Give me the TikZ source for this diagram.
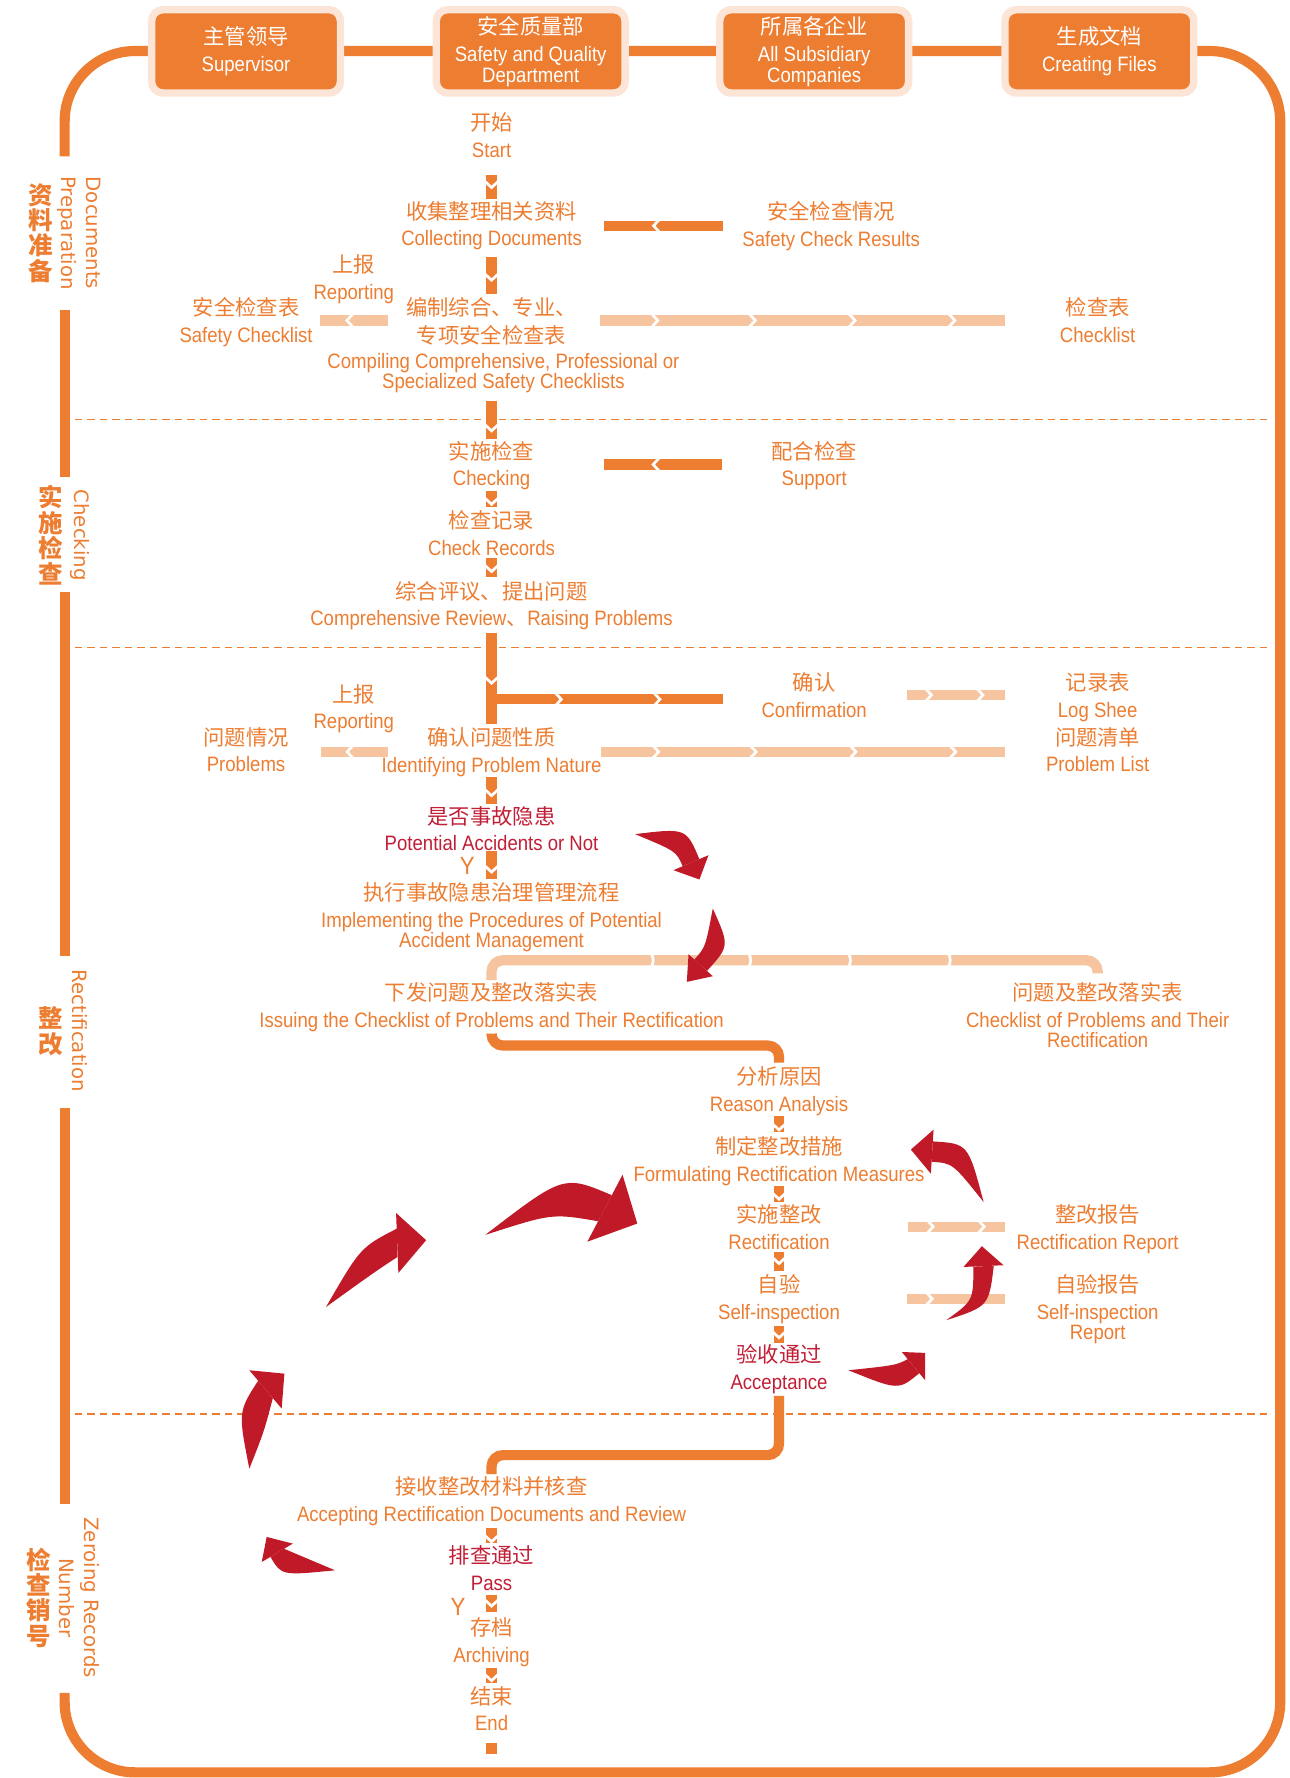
\documentclass[tikz,border=0pt]{standalone}
\usepackage{fontspec}
\setmainfont{Liberation Sans}
\newfontfamily\enf{Liberation Sans}[FakeStretch=0.89]
\newfontfamily\cjk{Noto Sans CJK SC}
\newfontfamily\labf{DejaVu Sans}
\usetikzlibrary{calc,decorations.markings}
\definecolor{od}{HTML}{ED7D31}
\definecolor{ol}{HTML}{F7C4A0}
\definecolor{halo}{HTML}{FCE4D6}
\definecolor{ar}{HTML}{C01928}
\definecolor{rt}{HTML}{C21E36}
\pgfdeclarelayer{bg}
\pgfsetlayers{bg,main}
\newcommand\zh[1]{{\fontsize{9.4}{9}\selectfont\cjk #1}}
\newcommand\redarrow[8]{\fill[ar] (#1) .. controls (#2) .. (#3) -- (#4) .. controls (#5) .. (#1) -- cycle; \fill[ar] (#6) -- (#7) -- (#8) -- cycle;}
\newcommand\vlink[5]{\draw[dbar,chevat=#5] ($(#1.south -| #2.north)+(0,#3)$) -- ($(#2.north)+(0,-#4)$);}
\tikzset{
 dbar/.style={draw=od, line width=4.5pt},
 lbar/.style={draw=ol, line width=4.5pt},
 frame/.style={draw=od, line width=4.5pt},
 chevat/.style={postaction={decorate, decoration={markings, mark=at position #1 with {\draw[white, line width=1.2pt, line join=miter] (-3,-6.5) -- (3,0) -- (-3,6.5);}}}},
 stepnode/.style={anchor=north, align=center, inner sep=0pt, text=od, font=\enf\fontsize{9.2}{9}\selectfont},
 rednode/.style={stepnode, text=rt},
 hdr/.style={fill=od, draw=halo, line width=3.25pt, rounded corners=5pt, minimum width=83.25pt, minimum height=36.75pt, inner sep=0pt, align=center, text=white, font=\enf\fontsize{9.2}{9}\selectfont},
 seczh/.style={align=center, inner sep=0pt, text=od, font=\cjk\bfseries\fontsize{10.8}{11.2}\selectfont},
 secen/.style={align=center, inner sep=0pt, text=od, rotate=-90, font=\labf\fontsize{8.7}{11}\selectfont},
 dashline/.style={draw=od, line width=0.6pt, dash pattern=on 3.3pt off 2.2pt},
 ylab/.style={inner sep=0pt, text=od, font=\enf\fontsize{11}{11}\selectfont},
}
\begin{document}
\begin{tikzpicture}[x=0.5pt,y=-0.5pt]
\useasboundingbox (0,0) rectangle (1137,1568);
\begin{pgfonlayer}{bg}
\fill[white] (0,0) rectangle (1137,1568);
% outer frame
\draw[frame, rounded corners=31pt] (57,138) -- (57,45) -- (1129,45) -- (1129,1563) -- (57,1563) -- (57,1493);
\draw[frame] (57,273) -- (57,421);
\draw[frame] (57,522) -- (57,843);
\draw[frame] (57,977) -- (57,1326);
% section separators
\draw[dashline] (66,370) -- (1121,370);
\draw[dashline] (66,571) -- (1121,571);
\draw[dashline] (66,1247) -- (1121,1247);
\end{pgfonlayer}

% header boxes
\node[hdr] (h1) at (217,45.3) {\zh{主管领导}\\[3pt]Supervisor};
\node[hdr] (h2) at (468,45.3) {\zh{安全质量部}\\[3pt]Safety and Quality\\Department};
\node[hdr] (h3) at (718,45.3) {\zh{所属各企业}\\[3pt]All Subsidiary\\Companies};
\node[hdr] (h4) at (969.5,45.3) {\zh{生成文档}\\[3pt]Creating Files};

% section labels
\node[seczh] (sa) at (36,205.5) {资\\料\\准\\备};
\node[secen] (sae) at (70,205.5) {Documents\\Preparation};
\node[seczh] (sb) at (44.8,472) {实\\施\\检\\查};
\node[secen] (sbe) at (70.5,472) {Checking};
\node[seczh] (sc) at (45,909.5) {整\\改};
\node[secen] (sce) at (70.5,909) {Rectification};
\node[seczh] (sd) at (34,1409) {检\\查\\销\\号};
\node[secen] (sde) at (70,1409) {Zeroing Records\\Number};

% steps
\node[stepnode] (start) at (433.5,99) {\zh{开始}\\[2.8pt]Start};
\node[stepnode] (collect) at (433.5,177) {\zh{收集整理相关资料}\\[2.8pt]Collecting Documents};
\node[stepnode] (scr) at (733,177) {\zh{安全检查情况}\\[2.8pt]Safety Check Results};
\node[stepnode] (rep1) at (312,224) {\zh{上报}\\[2.8pt]Reporting};
\node[stepnode] (scl) at (217,262) {\zh{安全检查表}\\[2.8pt]Safety Checklist};
\node[stepnode] (compilezh) at (433.5,262) {\zh{编制综合、专业、}\\[3.5pt]\zh{专项安全检查表}};
\node[stepnode] (compileen) at (444,311) {Compiling Comprehensive, Professional or\\Specialized Safety Checklists};
\node[stepnode] (checklist) at (968,262) {\zh{检查表}\\[2.8pt]Checklist};
\node[stepnode] (checking) at (433.5,388.6) {\zh{实施检查}\\[2.8pt]Checking};
\node[stepnode] (support) at (718,388.6) {\zh{配合检查}\\[2.8pt]Support};
\node[stepnode] (records) at (433.5,450) {\zh{检查记录}\\[2.8pt]Check Records};
\node[stepnode] (review) at (433.5,512) {\zh{综合评议、提出问题}\\[2.8pt]Comprehensive Review{\cjk 、}Raising Problems};
\node[stepnode] (rep2) at (312,603) {\zh{上报}\\[2.8pt]Reporting};
\node[stepnode] (confirm) at (718,592.7) {\zh{确认}\\[2.8pt]Confirmation};
\node[stepnode] (log) at (968,592.7) {\zh{记录表}\\[2.8pt]Log Shee};
\node[stepnode] (plist) at (968,641) {\zh{问题清单}\\[2.8pt]Problem List};
\node[stepnode] (problems) at (217,641) {\zh{问题情况}\\[2.8pt]Problems};
\node[stepnode] (identify) at (433.5,641) {\zh{确认问题性质}\\[2.8pt]Identifying Problem Nature};
\node[rednode] (potential) at (433.5,710.5) {\zh{是否事故隐患}\\[2.8pt]Potential Accidents or Not};
\node[ylab] (y1) at (412,764) {Y};
\node[stepnode] (implement) at (433.5,778) {\zh{执行事故隐患治理管理流程}\\[2.8pt]Implementing the Procedures of Potential\\Accident Management};
\node[stepnode] (issue) at (433.5,865.8) {\zh{下发问题及整改落实表}\\[2.8pt]Issuing the Checklist of Problems and Their Rectification};
\node[stepnode] (issuelist) at (968,866) {\zh{问题及整改落实表}\\[2.8pt]Checklist of Problems and Their\\Rectification};
\node[stepnode] (reason) at (687,940) {\zh{分析原因}\\[2.8pt]Reason Analysis};
\node[stepnode] (formulate) at (687,1001.6) {\zh{制定整改措施}\\[2.8pt]Formulating Rectification Measures};
\node[stepnode] (rectify) at (687,1062) {\zh{实施整改}\\[2.8pt]Rectification};
\node[stepnode] (rectreport) at (968,1062) {\zh{整改报告}\\[2.8pt]Rectification Report};
\node[stepnode] (selfinsp) at (687,1123.6) {\zh{自验}\\[2.8pt]Self-inspection};
\node[stepnode] (selfreport) at (968,1123.6) {\zh{自验报告}\\[2.8pt]Self-inspection\\Report};
\node[rednode] (accept) at (687,1185.4) {\zh{验收通过}\\[2.8pt]Acceptance};
\node[stepnode] (acceptdocs) at (433.5,1301.5) {\zh{接收整改材料并核查}\\[2.8pt]Accepting Rectification Documents and Review};
\node[rednode] (pass) at (433.5,1363) {\zh{排查通过}\\[2.8pt]Pass};
\node[ylab] (y2) at (404,1417) {Y};
\node[stepnode] (archive) at (433.5,1426) {\zh{存档}\\[2.8pt]Archiving};
\node[stepnode] (finish) at (433.5,1486.7) {\zh{结束}\\[2.8pt]End};

\begin{pgfonlayer}{bg}
% main vertical flow
\vlink{start}{collect}{15}{1.6}{4pt}
\vlink{collect}{compilezh}{5.5}{3}{8.75pt}
\vlink{compileen}{checking}{6.4}{1.6}{11.8pt}
\vlink{checking}{records}{0}{2.6}{4.5pt}
\vlink{records}{review}{2}{3}{4.25pt}
\vlink{review}{identify}{1.7}{2.5}{20.85pt}
\vlink{identify}{potential}{0.2}{1.5}{6.7pt}
\vlink{potential}{implement}{0}{2.8}{7.6pt}
\vlink{reason}{formulate}{0.6}{3}{4.4pt}
\vlink{formulate}{rectify}{0}{1.6}{4.4pt}
\vlink{rectify}{selfinsp}{1.4}{2.9}{3.7pt}
\vlink{selfinsp}{accept}{1.8}{1.4}{3.6pt}
\vlink{acceptdocs}{pass}{1.6}{2.7}{4.7pt}
\vlink{pass}{archive}{3}{4}{3.5pt}
\vlink{archive}{finish}{1.3}{2.7}{3.9pt}
\coordinate (endtail) at ($(finish.south)+(0,20)$);
\draw[dbar] ($(finish.south)+(0,10)$) -- (endtail);
% horizontal links
\draw[dbar, chevat=29pt] ($(scr.west)+(-17,0)$) -- ($(scr.west -| collect.east)+(19,0)$);
\draw[lbar, chevat=16.5pt] ($(compilezh.west)+(-16,-1)$) -- ($(compilezh.west -| scl.east)+(6,-1)$);
\draw[lbar, chevat=24pt, chevat=67pt, chevat=111pt, chevat=155pt] ($(compilezh.east)+(20,-1)$) -- ($(compilezh.east -| checklist.west)+(-48,-1)$);
\draw[dbar, chevat=29pt] ($(support.west)+(-43,-1)$) -- ($(support.west -| checking.east)+(61,-1)$);
\coordinate (br) at ($(review.south)+(0,60.6)$);
\draw[dbar, chevat=29.25pt, chevat=72.75pt] (br) -- ($(br -| confirm.west)+(-34,0)$);
\draw[lbar, chevat=9.3pt, chevat=32pt] ($(confirm.east)+(35,0)$) -- ($(confirm.east -| log.west)+(-46,0)$);
\draw[lbar, chevat=16.5pt] ($(identify.west)+(6,0)$) -- ($(identify.west -| problems.east)+(28,0)$);
\draw[lbar, chevat=24pt, chevat=67pt, chevat=111pt, chevat=155pt] ($(identify.east)+(-1,0)$) -- ($(identify.east -| plist.west)+(-36,0)$);
\draw[lbar, chevat=9.5pt, chevat=32pt] ($(rectify.east)+(69,-0.5)$) -- ($(rectify.east -| rectreport.west)+(-10,-0.5)$);
\draw[lbar, chevat=9.5pt, chevat=32pt] ($(selfinsp.east)+(59,-0.3)$) -- ($(selfinsp.east -| selfreport.west)+(-28,-0.3)$);
% rounded links
\draw[lbar, rounded corners=5pt, chevat=78.4pt, chevat=121.4pt, chevat=165.4pt, chevat=209.4pt] ($(issue.north)+(0,-1.4)$) -- ($(issue.north)+(0,-19)$) -| ($(issuelist.north)+(0,-7.6)$);
\draw[dbar, rounded corners=5pt] ($(issue.south)+(0,1.6)$) -- ++(0,10.5) -| ($(reason.north)+(0,-3)$);
\draw[dbar, rounded corners=5pt] ($(accept.south)+(0,1.5)$) -- ++(0,52.2) -| ($(acceptdocs.north)+(0,-1.5)$);
\end{pgfonlayer}

% red cycle arrows
\redarrow{560.1,735.6}{605.1,730.2}{616.8,757.7}{602,763.9}{596.5,750.8}{593.9,767.4}{616.8,775.6}{624.8,754.2}
\redarrow{628.6,801.2}{643.4,834.2}{623.5,856.2}{612.3,846.2}{622.1,835.4}{607.2,841.5}{605.7,865.9}{628.6,860.9}
\redarrow{867.4,1060}{853.8,1008.5}{822.6,1006.6}{821.6,1024.6}{840.1,1025.7}{823.3,996.2}{803.3,1013.8}{820.9,1035}
\redarrow{834.4,1164.3}{858.4,1147}{858.4,1117}{876.4,1116.3}{872,1152}{849.7,1117.3}{865.9,1099}{885,1115.8}
\redarrow{748.3,1208.4}{790,1204}{800.5,1198.6}{810.7,1211}{792.2,1226.2}{795.3,1192.3}{815.9,1193.1}{815.9,1217.2}
\redarrow{295.5,1384.8}{248.3,1389.5}{238.5,1373}{250.5,1365.8}{265,1372}{230.8,1377.5}{235.2,1355.4}{258.2,1361.3}
\redarrow{219.9,1295.2}{210,1245}{227.7,1217.6}{240.6,1233}{233,1262}{219.9,1208.4}{250.8,1211.4}{248.4,1242.2}
\redarrow{287.5,1152.6}{318,1100}{350,1083.5}{350.5,1108.5}{330,1122}{349.3,1069.7}{375.8,1093.7}{351.3,1122.6}
\redarrow{428,1089}{497,1036}{539.5,1054}{527.5,1077}{487,1070}{549,1036}{562,1079}{518,1095}
\end{tikzpicture}
\end{document}
